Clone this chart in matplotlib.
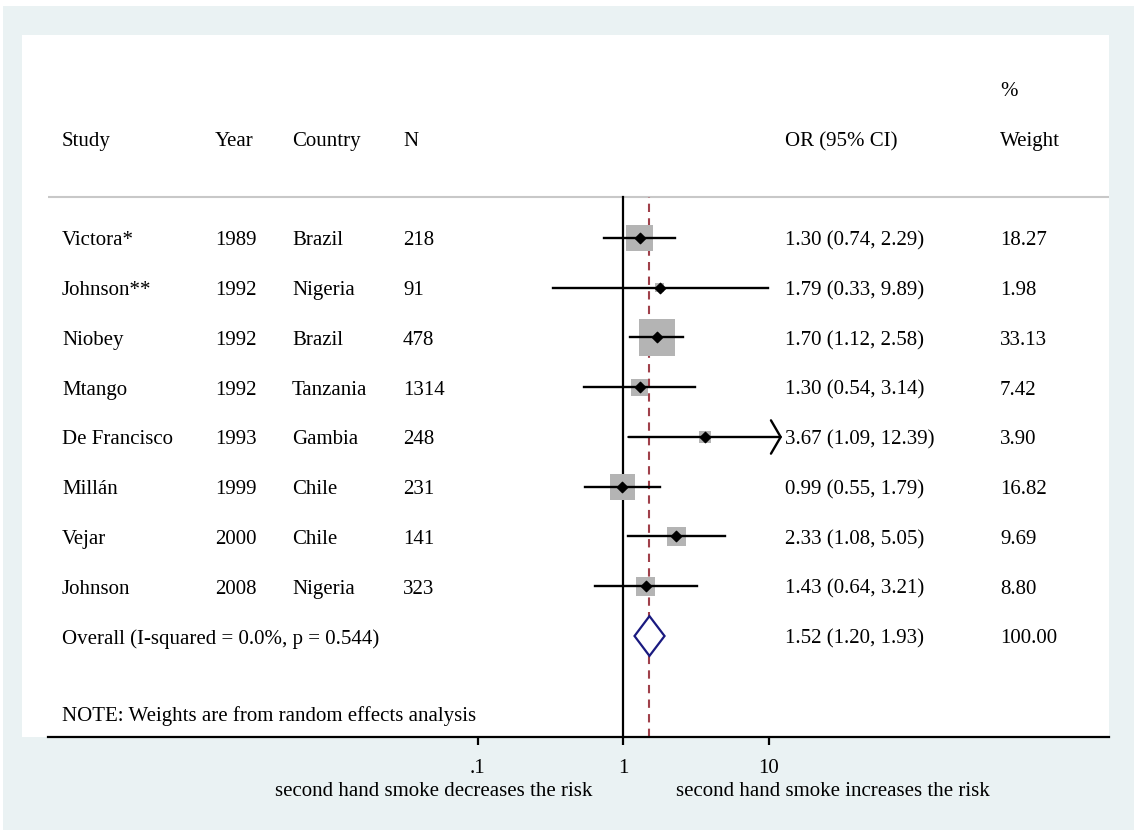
import matplotlib
matplotlib.use("Agg")
import matplotlib.pyplot as plt
from matplotlib.patches import Rectangle, Polygon
import numpy as np

plt.rcParams['font.family'] = ['Liberation Serif', 'DejaVu Serif']
plt.rcParams['font.size'] = 15

# データ
studies = ["Victora*", "Johnson**", "Niobey", "Mtango", "De Francisco",
           "Millán", "Vejar", "Johnson"]
years = [1989, 1992, 1992, 1992, 1993, 1999, 2000, 2008]
countries = ["Brazil", "Nigeria", "Brazil", "Tanzania", "Gambia",
             "Chile", "Chile", "Nigeria"]
n_sizes = [218, 91, 478, 1314, 248, 231, 141, 323]
or_vals = [1.30, 1.79, 1.70, 1.30, 3.67, 0.99, 2.33, 1.43]
ci_lo = [0.74, 0.33, 1.12, 0.54, 1.09, 0.55, 1.08, 0.64]
ci_hi = [2.29, 9.89, 2.58, 3.14, 12.39, 1.79, 5.05, 3.21]
weights = [18.27, 1.98, 33.13, 7.42, 3.90, 16.82, 9.69, 8.80]
overall_or, overall_lo, overall_hi = 1.52, 1.20, 1.93
overall_weight = 100.00
overall_label = "Overall (I-squared = 0.0%, p = 0.544)"
x_ticks = [0.1, 1, 10]
x_ticklabels = [".1", "1", "10"]

W, H = 1134, 830
fig = plt.figure(figsize=(W / 100, H / 100), dpi=100, facecolor="white")

# 背景
fig.patches.append(Rectangle((3 / W, 0), 1, 1 - 6 / H, transform=fig.transFigure,
                             facecolor="#EAF2F3", edgecolor="none", zorder=-10))
fig.patches.append(Rectangle((22 / W, 1 - 737 / H), (1109 - 22) / W, (737 - 35) / H,
                             transform=fig.transFigure, facecolor="white",
                             edgecolor="none", zorder=-9))

ax = fig.add_axes([48 / W, 1 - 737 / H, (1109 - 48) / W, (737 - 35) / H])
ax.patch.set_alpha(0)
ax.set_xscale("log")
ax.set_xlim(10 ** ((48 - 623) / 145.5), 10 ** ((1109 - 623) / 145.5))
ax.set_ylim(-10.03, 4.08)
for s in ["top", "right", "left"]:
    ax.spines[s].set_visible(False)
ax.spines["bottom"].set_linewidth(1.6)
ax.set_yticks([])
ax.set_xticks(x_ticks, x_ticklabels)
ax.minorticks_off()
ax.tick_params(axis="x", length=6, width=1.6, pad=10, labelsize=15)

def fx(px):
    return (px - 48) / (1109 - 48)

tr = ax.get_yaxis_transform()
ypos = -np.arange(len(studies))
y_overall = -len(studies)
line_top = 0.82
dy = -0.06   # 文字の縦位置補正

# ヘッダー
ax.axhline(line_top, color="#C8C8C8", lw=1.5)
headers = [(62, "Study"), (215, "Year"), (292, "Country"), (403, "N"),
           (785, "OR (95% CI)"), (1000, "Weight")]
for px, t in headers:
    ax.text(fx(px), 2 + dy, t, transform=tr, va="center", ha="left")
ax.text(fx(1000), 3 + dy, "%", transform=tr, va="center", ha="left")

# 基準線
ax.plot([1, 1], [-10.03, line_top], color="black", lw=1.6, zorder=2)
ax.plot([overall_or, overall_or], [-10.03, line_top], color="#A0404A", lw=1.5,
        dashes=(4, 3), zorder=2)

# 各研究
for i, y in enumerate(ypos):
    ax.text(fx(62), y + dy, studies[i], transform=tr, va="center")
    ax.text(fx(215), y + dy, str(years[i]), transform=tr, va="center")
    ax.text(fx(292), y + dy, countries[i], transform=tr, va="center")
    ax.text(fx(403), y + dy, str(n_sizes[i]), transform=tr, va="center")
    ax.text(fx(785), y + dy, f"{or_vals[i]:.2f} ({ci_lo[i]:.2f}, {ci_hi[i]:.2f})",
            transform=tr, va="center")
    ax.text(fx(1000), y + dy, f"{weights[i]:.2f}", transform=tr, va="center")
    ax.scatter(or_vals[i], y, marker="s", s=20.3 * weights[i], color="#B4B4B4",
               edgecolor="none", zorder=3)
    if ci_hi[i] > 10:
        ax.annotate("", xy=(ci_hi[i], y), xytext=(ci_lo[i], y), zorder=4,
                    arrowprops=dict(arrowstyle="->,head_length=0.35,head_width=0.6",
                                    lw=1.7, color="black", shrinkA=0, shrinkB=0,
                                    mutation_scale=20))
    else:
        ax.plot([ci_lo[i], ci_hi[i]], [y, y], color="black", lw=1.7, zorder=4)
    ax.scatter(or_vals[i], y, marker="D", s=28, color="black", zorder=5)

# 全体
ax.text(fx(62), y_overall + dy, overall_label, transform=tr, va="center")
ax.text(fx(785), y_overall + dy,
        f"{overall_or:.2f} ({overall_lo:.2f}, {overall_hi:.2f})",
        transform=tr, va="center")
ax.text(fx(1000), y_overall + dy, f"{overall_weight:.2f}", transform=tr, va="center")
dia = Polygon([(overall_lo, y_overall), (overall_or, y_overall + 0.4),
               (overall_hi, y_overall), (overall_or, y_overall - 0.4)],
              closed=True, facecolor="white", edgecolor="#1A1A80", lw=1.6, zorder=5)
ax.add_patch(dia)

ax.text(fx(62), -9.55 + dy, "NOTE: Weights are from random effects analysis",
        transform=tr, va="center")

ax.text(fx(434), -0.078, "second hand smoke decreases the risk",
        transform=ax.transAxes, ha="center", va="center")
ax.text(fx(833), -0.078, "second hand smoke increases the risk",
        transform=ax.transAxes, ha="center", va="center")

fig.savefig("out.png", dpi=100, facecolor=fig.get_facecolor())
